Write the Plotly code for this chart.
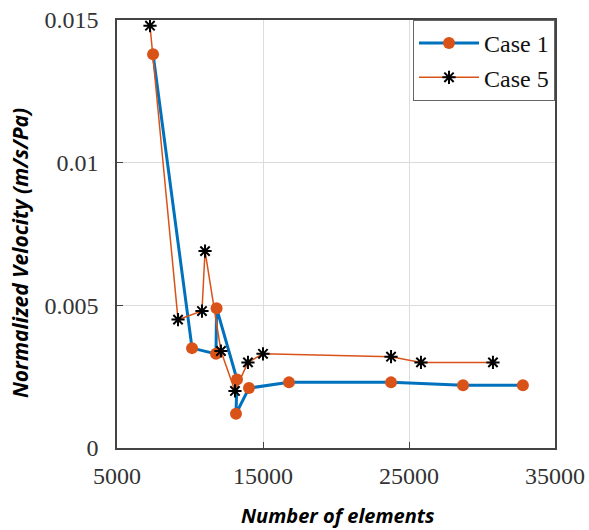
import plotly.graph_objects as go

case1_x = [7470, 10140, 11780, 11820, 13220, 13150, 14040, 16780, 23770, 28700, 32800]
case1_y = [0.0138, 0.0035, 0.0033, 0.0049, 0.0024, 0.0012, 0.0021, 0.0023, 0.0023, 0.0022, 0.0022]

case5_x = [7260, 9180, 10820, 11030, 12120, 13080, 13970, 15000, 23770, 25820, 30750]
case5_y = [0.0148, 0.0045, 0.0048, 0.0069, 0.0034, 0.0020, 0.0030, 0.0033, 0.0032, 0.0030, 0.0030]

x_ticks = [5000, 15000, 25000, 35000]
y_ticks = [0, 0.005, 0.01, 0.015]
y_tick_labels = ["0", "0.005", "0.01", "0.015"]

x_title = "Number of elements"
y_title = "Normalized Velocity (m/s/Pa)"

blue = "#0072BD"
orange = "#D95319"

fig = go.Figure()
fig.add_trace(go.Scatter(
    x=case1_x, y=case1_y, mode="lines+markers", name="Case 1",
    line=dict(color=blue, width=3),
    marker=dict(symbol="circle", size=12, color=orange, line=dict(width=0)),
))
fig.add_trace(go.Scatter(
    x=case5_x, y=case5_y, mode="lines+markers", name="Case 5",
    line=dict(color=orange, width=1.5),
    marker=dict(symbol="asterisk-open", size=11, color="black", line=dict(color="black", width=2)),
))

tickfont = dict(family="Liberation Serif, Times New Roman, serif", size=24, color="#333333")
title_family = "Open Sans, Lato, sans-serif"

fig.update_layout(
    width=589, height=530,
    margin=dict(l=117, r=34, t=20, b=82),
    paper_bgcolor="white", plot_bgcolor="white",
    showlegend=True,
    legend=dict(
        x=1, y=1, xanchor="right", yanchor="top",
        bgcolor="white", bordercolor="#666666", borderwidth=1,
        font=dict(family="Liberation Serif, Times New Roman, serif", size=24, color="#111111"),
        tracegroupgap=0, itemwidth=60,
    ),
    xaxis=dict(
        range=[5000, 35000], tickvals=x_ticks, ticktext=[str(v) for v in x_ticks],
        showgrid=True, gridcolor="#DCDCDC", gridwidth=1,
        showline=True, linecolor="#444444", linewidth=1.5, mirror=True,
        ticks="inside", ticklen=6, tickcolor="#444444",
        tickfont=tickfont, zeroline=False, ticklabelstandoff=5, automargin=False,
    ),
    yaxis=dict(
        range=[0, 0.015], tickvals=y_ticks, ticktext=y_tick_labels,
        showgrid=True, gridcolor="#DCDCDC", gridwidth=1,
        showline=True, linecolor="#444444", linewidth=1.5, mirror=True,
        ticks="inside", ticklen=6, tickcolor="#444444",
        tickfont=tickfont, zeroline=False, ticklabelstandoff=12, automargin=False,
    ),
    annotations=[
        dict(text="<b><i>" + x_title + "</i></b>", xref="paper", yref="paper",
             x=0.505, y=-0.157, xanchor="center", yanchor="middle", showarrow=False,
             font=dict(family=title_family, size=20, color="black")),
        dict(text="<b><i>" + y_title + "</i></b>", xref="paper", yref="paper",
             x=-0.221, y=0.456, xanchor="center", yanchor="middle", showarrow=False,
             textangle=-90,
             font=dict(family=title_family, size=21, color="black")),
    ],
)

fig.write_html("out.html", config={"displayModeBar": False},
               post_script="document.body.style.margin='0';")
